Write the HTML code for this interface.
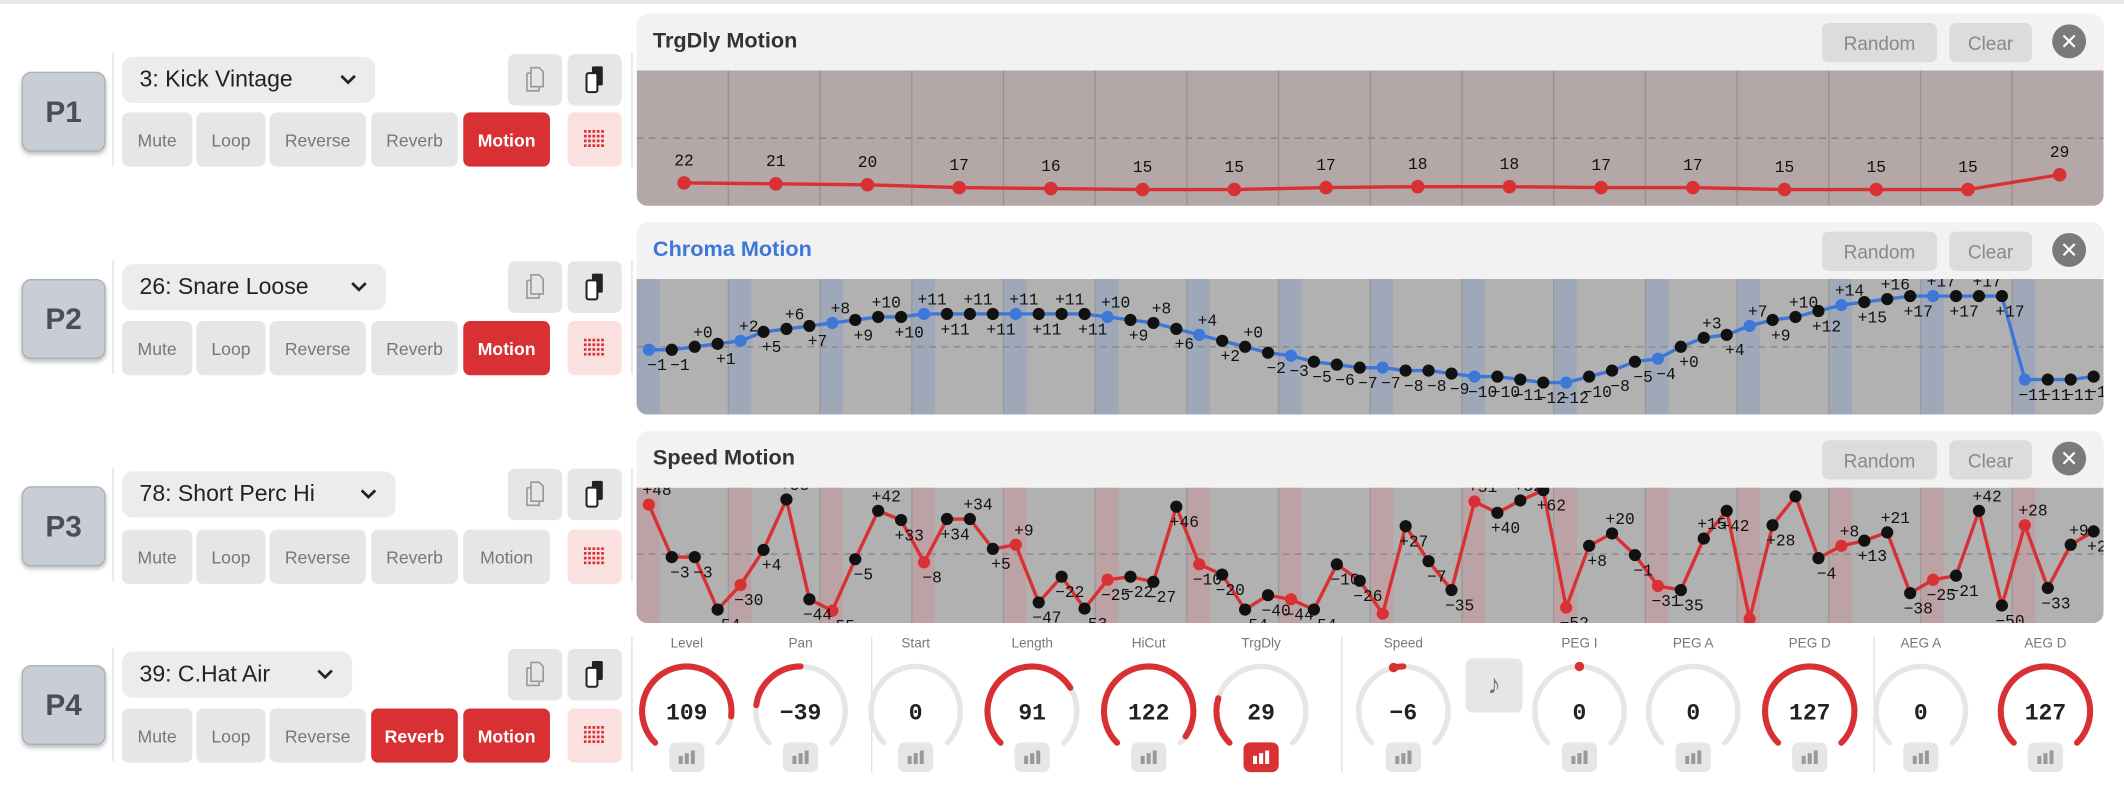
<!DOCTYPE html>
<html><head><meta charset="utf-8">
<style>
html,body{margin:0;padding:0;background:#fff;overflow:hidden;width:2124px;height:786px}
#w{position:absolute;left:0;top:0;width:1568px;height:580px;transform:scale(1.35459);transform-origin:0 0;font-family:"Liberation Sans","DejaVu Sans",sans-serif}
.a{position:absolute;box-sizing:border-box}
.pb{background:#c9ced6;border:1.5px solid #a9b0ba;border-radius:7px;box-shadow:0 2px 3px rgba(0,0,0,.25);font-weight:bold;font-size:22px;color:#4a4f57;display:flex;align-items:center;justify-content:center}
.dd{background:#ececec;border-radius:8px;font-size:17px;color:#222;display:flex;align-items:center;padding-left:13px}
.chev{position:absolute;right:14px;top:13px;line-height:0;display:block}
.chev svg{display:block}
.b{background:#e6e6e6;border-radius:5px;font-size:13px;color:#777;display:flex;align-items:center;justify-content:center}
.b.on{background:#d93033;color:#fff;font-weight:bold}
.hd{background:#f2f2f2;border-radius:9px 9px 0 0;font-weight:bold;font-size:16px;color:#333;padding:12px 0 0 12px}
.hb{background:#dcdcdc;border-radius:5px;color:#888;font-size:14px;display:flex;align-items:center;justify-content:center}
.x{background:#7a7a7a;border-radius:50%;color:#fff;font-size:16px;display:flex;align-items:center;justify-content:center;font-weight:bold}
.vl{position:absolute;width:1px;background:#e0e0e0}
.kl{position:absolute;font-size:10px;color:#777;text-align:center;width:60px}
</style></head><body><div id="w"></div>
<script>
const W=document.getElementById('w');let h='';
function A(cls,x,y,w,hh,t,st){h+=`<div class="a ${cls}" style="left:${x}px;top:${y}px;width:${w}px;height:${hh}px;${st||''}">${t||''}</div>`;}
h+='<div class="a" style="left:0;top:0;width:1568px;height:3px;background:#e8e8e8"></div>';
const copyI='<svg width="16" height="22" viewBox="0 0 16 22"><path d="M5 2h6l3 3v11H5z M2 6h3 M2 6v13h9v-3" fill="none" stroke="#999" stroke-width="1.2"/></svg>';
const pasteI='<svg width="16" height="22" viewBox="0 0 16 22"><rect x="6" y="1" width="8" height="14" rx="1" fill="#222"/><rect x="2" y="6" width="8" height="14" rx="1.5" fill="#fff" stroke="#222" stroke-width="1.5"/></svg>';
const gridI='<svg width="16" height="14">'+[0,1,2,3].map(r=>[0,1,2,3,4].map(c=>`<rect x="${c*3.2}" y="${r*3.5}" width="2" height="2" fill="#d93033"/>`).join('')).join('')+'</svg>';
const rows=[{p:'P1',py:53,dy:42,dw:187,by:83,name:'3: Kick Vintage',on:[4]},{p:'P2',py:206,dy:195,dw:195,by:237,name:'26: Snare Loose',on:[4]},{p:'P3',py:359,dy:348,dw:202,by:391,name:'78: Short Perc Hi',on:[]},{p:'P4',py:491,dy:481,dw:170,by:523,name:'39: C.Hat Air',on:[3,4]}];
const bx=[[90,52,'Mute'],[145,51,'Loop'],[199,71,'Reverse'],[274,64,'Reverb'],[342,64,'Motion']];
rows.forEach(r=>{
 A('pb',16,r.py,62,59,r.p);
 h+=`<div class="vl" style="left:83px;top:${r.dy-3}px;height:84px"></div><div class="vl" style="left:466px;top:${r.dy-3}px;height:84px"></div>`;
 A('dd',90,r.dy,r.dw,34,r.name+'<span class="chev"><svg width="12" height="8"><path d="M1 1l5 5 5-5" fill="none" stroke="#222" stroke-width="2"/></svg></span>');
 A('b',375,r.dy-2,40,38,copyI);A('b',419,r.dy-2,40,38,pasteI);
 bx.forEach((b,i)=>A('b'+(r.on.includes(i)?' on':''),b[0],r.by,b[1],40,b[2]));
 A('b',419,r.by,40,40,gridI,'background:#fbe0e0');
});
function panel(y,title,col){A('hd',470,y,1083,42,title,'color:'+col);A('hb',1345,y+7,85,29,'Random');A('hb',1439,y+7,61,29,'Clear');A('x',1515,y+8,25,25,'✕');}
panel(10,'TrgDly Motion','#333');panel(164,'Chroma Motion','#3d78d8');panel(318,'Speed Motion','#333');
function svgWrap(y,inner,bg){h+=`<svg class="a" style="left:470px;top:${y}px" width="1083" height="100"><defs><clipPath id="c${y}"><path d="M0 0H1083V92a8 8 0 0 1-8 8H8a8 8 0 0 1-8-8z"/></clipPath></defs><g clip-path="url(#c${y})"><rect width="1083" height="100" fill="${bg}"/>${inner}</g></svg>`;}
const T='font-family="Liberation Mono,DejaVu Sans Mono,monospace" font-size="12" fill="#111" text-anchor="middle"';
{let v=[22,21,20,17,16,15,15,17,18,18,17,17,15,15,15,29],s='';
for(let i=1;i<16;i++)s+=`<line x1="${i*67.7}" y1="0" x2="${i*67.7}" y2="100" stroke="#9b8f8f" stroke-width="1"/>`;
s+='<line x1="0" y1="50" x2="1083" y2="50" stroke="#8a8080" stroke-dasharray="5,4"/>';
let pts=v.map((a,i)=>[35+i*67.7,a==29?77:83+(22-a)*0.7]);
s+=`<polyline points="${pts.map(p=>p.join(',')).join(' ')}" fill="none" stroke="#d93033" stroke-width="2.5"/>`;
pts.forEach((p,i)=>{s+=`<circle cx="${p[0]}" cy="${p[1]}" r="5" fill="#d93033"/><text x="${p[0]}" y="${p[1]-13}" ${T} font-size="13">${v[i]}</text>`;});
svgWrap(52,s,'#b3a7a7');}
function motion(y,v,band,lc,scale,cy){let s='';
for(let i=0;i<16;i++)s+=`<rect x="${i*67.7}" y="0" width="17" height="100" fill="${band}"/><line x1="${i*67.7}" y1="0" x2="${i*67.7}" y2="100" stroke="#999"/>`;
s+=`<line x1="0" y1="${cy}" x2="1083" y2="${cy}" stroke="#888" stroke-dasharray="5,4"/>`;
let pts=v.map((a,i)=>[9+i*16.93,cy-a*scale]);
s+=`<polyline points="${pts.map(p=>p.join(',')).join(' ')}" fill="none" stroke="${lc}" stroke-width="2.5"/>`;
pts.forEach((p,i)=>{s+=`<circle cx="${p[0]}" cy="${p[1]}" r="4.5" fill="${i%4?'#111':lc}"/>`;});
pts.forEach((p,i)=>{let up=(i%2==0);let t=v[i]>0?'+'+v[i]:(v[i]==0?'+0':'−'+(-v[i]));s+=`<text x="${p[0]+6}" y="${p[1]+(v[i]>=0&&up?-7:15)}" ${T}>${t}</text>`;});
svgWrap(y,s,'#b1b1b1');}
motion(206,[-1,-1,0,1,2,5,6,7,8,9,10,10,11,11,11,11,11,11,11,11,10,9,8,6,4,2,0,-2,-3,-5,-6,-7,-7,-8,-8,-9,-10,-10,-11,-12,-12,-10,-8,-5,-4,0,3,4,7,9,10,12,14,15,16,17,17,17,17,17,-11,-11,-11,-10],'#9fa8b9','#3d78d8',2.2,50);
motion(360,[48,-3,-3,-54,-30,4,53,-44,-55,-5,42,33,-8,34,34,5,9,-47,-22,-53,-25,-22,-27,46,-10,-20,-54,-40,-44,-54,-10,-26,-58,27,-7,-35,51,40,52,62,-52,8,20,-1,-31,-35,15,42,-63,28,56,-4,8,13,21,-38,-25,-21,42,-50,28,-33,9,22],'#bca2a4','#d93033',0.76,49);
[466,643,990,1383].forEach(x=>h+=`<div class="vl" style="left:${x}px;top:470px;height:100px"></div>`);
const R=33;function pt(a){const r=a*Math.PI/180;return[R*Math.sin(r),-R*Math.cos(r)];}
function arc(a0,a1,col,w){const p0=pt(a0),p1=pt(a1);const lg=Math.abs(a1-a0)>180?1:0;const sw=a1>a0?1:0;return `<path d="M${p0[0]+40} ${p0[1]+40}A${R} ${R} 0 ${lg} ${sw} ${p1[0]+40} ${p1[1]+40}" fill="none" stroke="${col}" stroke-width="${w}" stroke-linecap="round"/>`;}
const kn=[['Level',507,109,0],['Pan',591,-39,1],['Start',676,0,0],['Length',762,91,0],['HiCut',848,122,0],['TrgDly',931,29,0,1],['Speed',1036,-6,1],['PEG I',1166,0,1],['PEG A',1250,0,0],['PEG D',1336,127,0],['AEG A',1418,0,0],['AEG D',1510,127,0]];
kn.forEach(k=>{let [n,x,v,bi,act]=k;h+=`<div class="kl" style="left:${x-30}px;top:470px">${n}</div>`;
let s=arc(-135,135,'#e6e6e6',4);
if(bi){let a=v/64*135;s+=v==0?'<circle cx="40" cy="7" r="3.5" fill="#d93033"/>':arc(0,a,'#d93033',4.5);if(v<0&&v>-10)s+='<circle cx="'+(40+pt(a)[0])+'" cy="'+(40+pt(a)[1])+'" r="3.5" fill="#d93033"/>';}
else if(v>0)s+=arc(-135,-135+270*v/127,'#d93033',4.5);
h+=`<svg class="a" style="left:${x-40}px;top:485px" width="80" height="80">${s}<text x="40" y="46" text-anchor="middle" font-family="Liberation Mono,monospace" font-weight="bold" font-size="17" fill="#222">${v<0?'−'+(-v):v}</text></svg>`;
const bars=`<svg width="12" height="10"><rect x="0" y="4" width="3" height="6" fill="${act?'#fff':'#999'}"/><rect x="4.5" y="2" width="3" height="8" fill="${act?'#fff':'#999'}"/><rect x="9" y="0" width="3" height="10" fill="${act?'#fff':'#999'}"/></svg>`;
A('b',x-13,548,26,22,bars,act?'background:#d93033':'');});
A('b',1082,486,42,40,'<span style="font-size:20px;color:#777">♪</span>');
W.innerHTML=h;
</script></body></html>
